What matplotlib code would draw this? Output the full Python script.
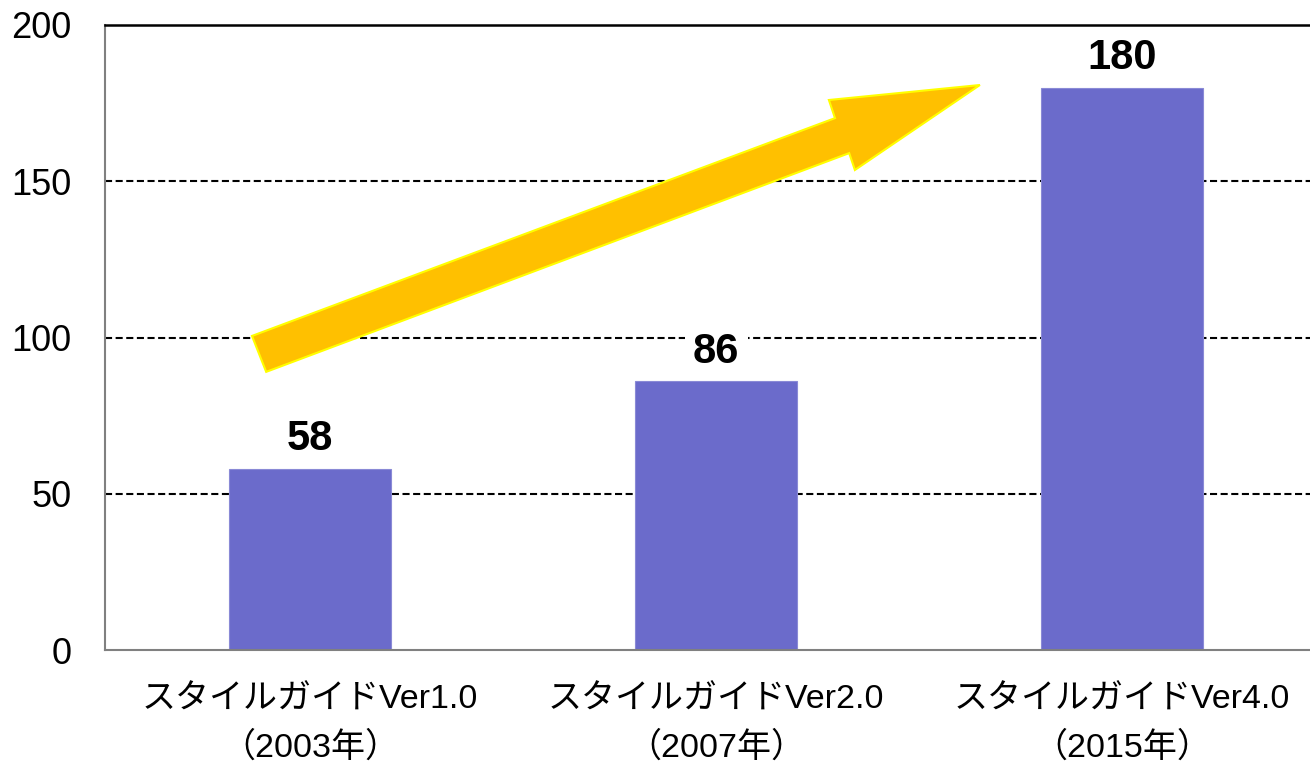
import matplotlib
matplotlib.use("Agg")
import matplotlib.pyplot as plt
from matplotlib.patches import Polygon

categories = ["スタイルガイドVer1.0\n（2003年）",
              "スタイルガイドVer2.0\n（2007年）",
              "スタイルガイドVer4.0\n（2015年）"]
values = [58, 86, 180]
yticks = [0, 50, 100, 150, 200]

plt.rcParams['font.family'] = ['Liberation Sans', 'Noto Sans CJK JP', 'DejaVu Sans']

fig = plt.figure(figsize=(13.1, 7.62), dpi=100)
ax = fig.add_axes([105/1310, 1-650/762, 1-105/1310, 625/762])

x = list(range(len(categories)))
bars = ax.bar(x, values, width=0.4, color='#6B6BCB', edgecolor='#8A8AD6', linewidth=0.8, zorder=2)

ax.set_xlim(-0.505, 2.463)
ax.set_ylim(0, 200)
ax.set_yticks(yticks)
ax.set_yticklabels([str(t) for t in yticks], fontsize=26)
ax.set_xticks(x)
ax.set_xticklabels(categories, fontsize=24.5, linespacing=1.6)
ax.tick_params(axis='both', length=0)
ax.tick_params(axis='y', pad=24)
ax.tick_params(axis='x', pad=25)

ax.set_axisbelow(True)
for t in yticks[1:-1]:
    ax.axhline(t, color='black', linewidth=1.5, linestyle=(0, (3.4, 1.7)), zorder=0.5)

for s in ['left', 'bottom']:
    ax.spines[s].set_color('#808080')
    ax.spines[s].set_linewidth(1.5)
ax.spines['top'].set_color('black')
ax.spines['top'].set_linewidth(1.8)
ax.spines['right'].set_visible(False)

for xi, v in zip(x, values):
    ax.annotate(str(v), (xi, v), xytext=(0, 7), textcoords='offset points',
                ha='center', va='bottom', fontsize=30, fontweight='bold',
                family=['Liberation Sans'],
                bbox=dict(fc='white', ec='none', pad=6), zorder=4, annotation_clip=False)

arrow_pts = [(-0.143, 100.5), (1.293, 170.2), (1.278, 176.0), (1.650, 180.8),
             (1.342, 153.6), (1.328, 159.0), (-0.108, 89.0)]
ax.add_patch(Polygon(arrow_pts, closed=True, facecolor='#FFC000', edgecolor='#FFFF00',
                     linewidth=1.5, zorder=3))

fig.savefig('out.png', dpi=100)
